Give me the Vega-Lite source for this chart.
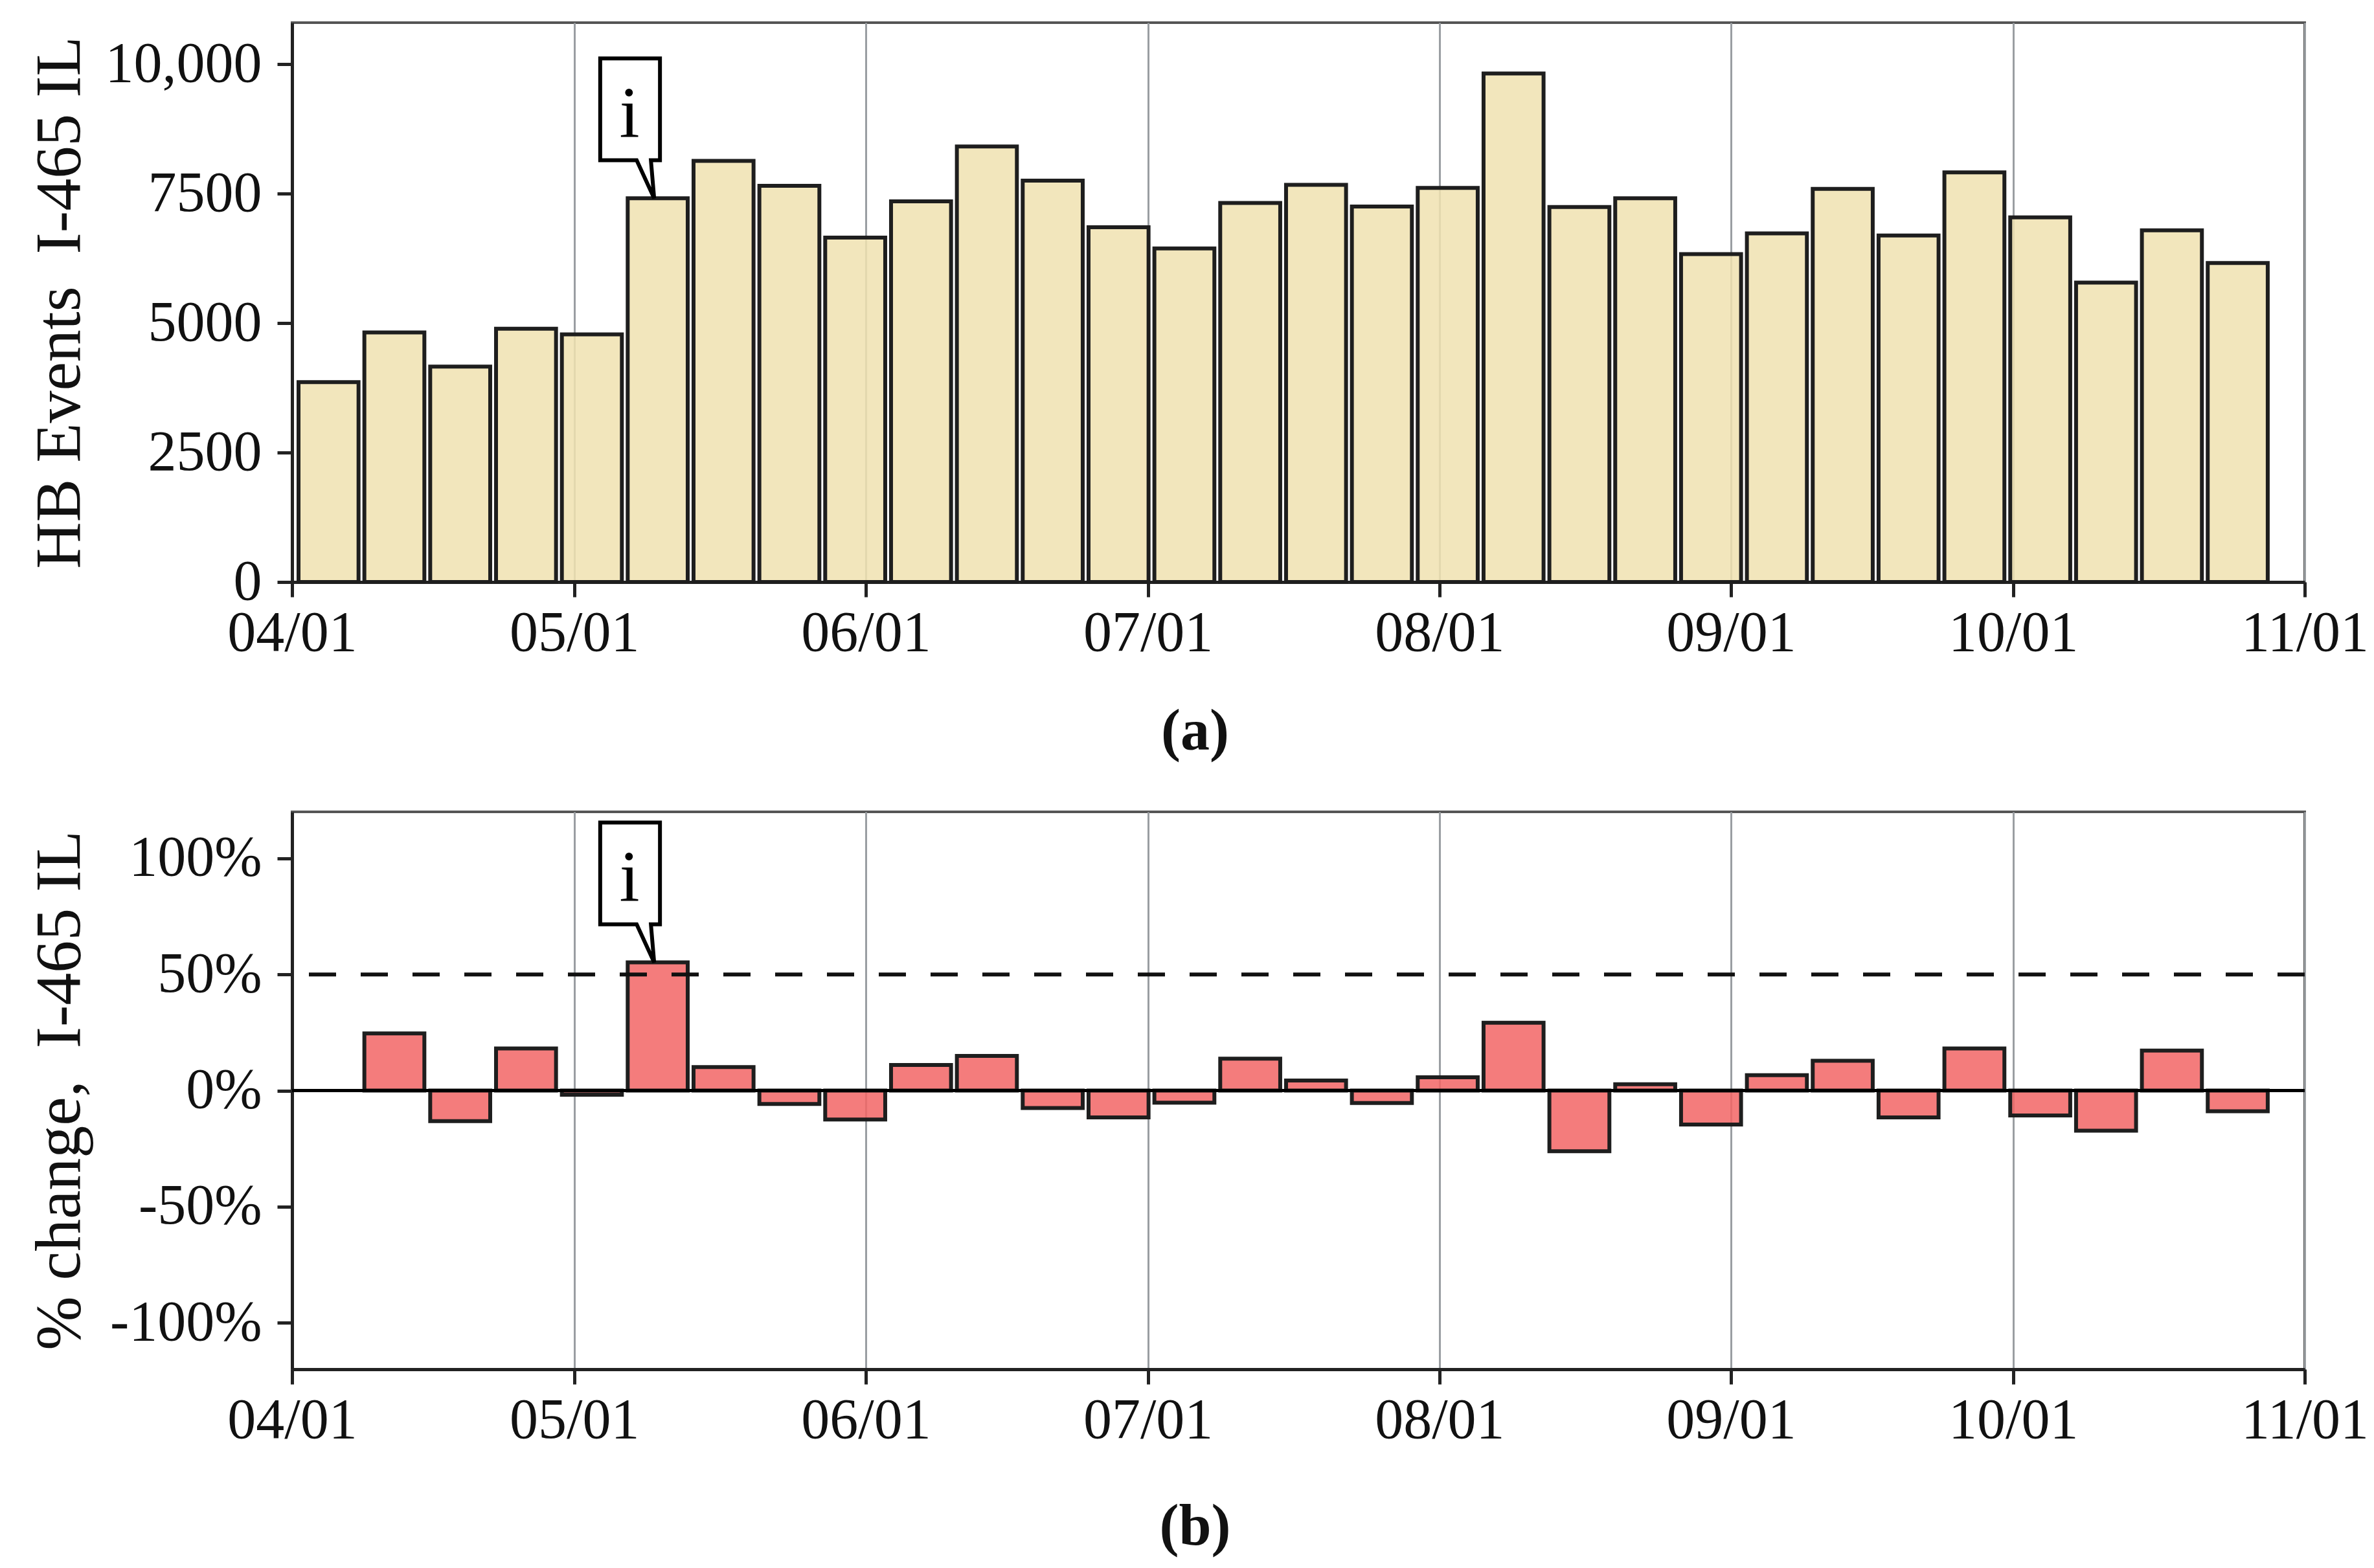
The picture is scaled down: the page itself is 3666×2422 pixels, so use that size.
{
  "$schema": "https://vega.github.io/schema/vega-lite/v6.json",
  "background": "white",
  "padding": {"left": 40, "top": 33, "right": 5, "bottom": 5},
  "config": {
    "font": "Liberation Serif",
    "view": {"stroke": "#555555", "strokeWidth": 4},
    "concat": {"spacing": 75},
    "axis": {
      "labelFont": "Liberation Serif", "labelFontSize": 88, "labelColor": "#111111", "labelLimit": 0, "labelFlush": false,
      "titleFont": "Liberation Serif", "titleFontSize": 100, "titleFontWeight": "normal", "titleColor": "#111111", "titleLimit": 0,
      "tickSize": 23, "tickWidth": 5, "tickColor": "#222222",
      "domainColor": "#222222", "domainWidth": 5,
      "gridColor": "#9a9ea2", "gridWidth": 3, "gridOpacity": 1
    }
  },
  "datasets": {
    "weekly": [
      {"start": "2021-04-01T00:00:00", "end": "2021-04-08T00:00:00", "events": 3860, "pct": null},
      {"start": "2021-04-08T00:00:00", "end": "2021-04-15T00:00:00", "events": 4820, "pct": 24.6},
      {"start": "2021-04-15T00:00:00", "end": "2021-04-22T00:00:00", "events": 4160, "pct": -13.2},
      {"start": "2021-04-22T00:00:00", "end": "2021-04-29T00:00:00", "events": 4890, "pct": 18.1},
      {"start": "2021-04-29T00:00:00", "end": "2021-05-06T00:00:00", "events": 4780, "pct": -1.8},
      {"start": "2021-05-06T00:00:00", "end": "2021-05-13T00:00:00", "events": 7410, "pct": 55.2},
      {"start": "2021-05-13T00:00:00", "end": "2021-05-20T00:00:00", "events": 8130, "pct": 10.1},
      {"start": "2021-05-20T00:00:00", "end": "2021-05-27T00:00:00", "events": 7650, "pct": -5.8},
      {"start": "2021-05-27T00:00:00", "end": "2021-06-03T00:00:00", "events": 6650, "pct": -12.5},
      {"start": "2021-06-03T00:00:00", "end": "2021-06-10T00:00:00", "events": 7350, "pct": 11.0},
      {"start": "2021-06-10T00:00:00", "end": "2021-06-17T00:00:00", "events": 8410, "pct": 14.9},
      {"start": "2021-06-17T00:00:00", "end": "2021-06-24T00:00:00", "events": 7750, "pct": -7.5},
      {"start": "2021-06-24T00:00:00", "end": "2021-07-01T00:00:00", "events": 6850, "pct": -11.6},
      {"start": "2021-07-01T00:00:00", "end": "2021-07-08T00:00:00", "events": 6440, "pct": -5.2},
      {"start": "2021-07-08T00:00:00", "end": "2021-07-15T00:00:00", "events": 7320, "pct": 13.7},
      {"start": "2021-07-15T00:00:00", "end": "2021-07-22T00:00:00", "events": 7670, "pct": 4.3},
      {"start": "2021-07-22T00:00:00", "end": "2021-07-29T00:00:00", "events": 7250, "pct": -5.4},
      {"start": "2021-07-29T00:00:00", "end": "2021-08-05T00:00:00", "events": 7610, "pct": 5.7},
      {"start": "2021-08-05T00:00:00", "end": "2021-08-12T00:00:00", "events": 9820, "pct": 29.2},
      {"start": "2021-08-12T00:00:00", "end": "2021-08-19T00:00:00", "events": 7240, "pct": -26.1},
      {"start": "2021-08-19T00:00:00", "end": "2021-08-26T00:00:00", "events": 7410, "pct": 2.7},
      {"start": "2021-08-26T00:00:00", "end": "2021-09-02T00:00:00", "events": 6330, "pct": -14.6},
      {"start": "2021-09-02T00:00:00", "end": "2021-09-09T00:00:00", "events": 6730, "pct": 6.6},
      {"start": "2021-09-09T00:00:00", "end": "2021-09-16T00:00:00", "events": 7590, "pct": 12.8},
      {"start": "2021-09-16T00:00:00", "end": "2021-09-23T00:00:00", "events": 6690, "pct": -11.6},
      {"start": "2021-09-23T00:00:00", "end": "2021-09-30T00:00:00", "events": 7910, "pct": 18.1},
      {"start": "2021-09-30T00:00:00", "end": "2021-10-07T00:00:00", "events": 7040, "pct": -10.7},
      {"start": "2021-10-07T00:00:00", "end": "2021-10-14T00:00:00", "events": 5780, "pct": -17.3},
      {"start": "2021-10-14T00:00:00", "end": "2021-10-21T00:00:00", "events": 6790, "pct": 17.2},
      {"start": "2021-10-21T00:00:00", "end": "2021-10-28T00:00:00", "events": 6160, "pct": -8.9}
    ],
    "callouts": [
      {"date": "2021-05-09T12:00:00", "events": 7410, "pct": 55.2, "label": "i"}
    ]
  },
  "vconcat": [
    {
      "width": 3108,
      "height": 864,
      "layer": [
        {
          "data": {"name": "weekly"},
          "mark": {"type": "bar", "fill": "#f0e2b0", "fillOpacity": 0.85, "stroke": "#1e1e1e", "strokeWidth": 6, "xOffset": 10, "x2Offset": 1},
          "encoding": {
            "x": {
              "field": "start", "type": "temporal",
              "scale": {"domain": [{"year": 2021, "month": 4, "date": 1}, {"year": 2021, "month": 11, "date": 1}]},
              "axis": {"format": "%m/%d", "tickCount": {"interval": "month", "step": 1}, "grid": true, "labelPadding": 12,
                       "title": "(a)", "titleFontWeight": "bold", "titleFontSize": 90, "titleX": 1394, "titleY": 258, "titleBaseline": "alphabetic", "titleAlign": "center"}
            },
            "x2": {"field": "end"},
            "y": {
              "field": "events", "type": "quantitative",
              "scale": {"domain": [0, 10800], "nice": false},
              "axis": {"values": [0, 2500, 5000, 7500, 10000], "grid": false, "labelPadding": 24,
                       "labelExpr": "datum.value >= 10000 ? format(datum.value, ',') : format(datum.value, 'd')",
                       "title": "HB Events \u00a0I-465 IL", "titleX": -329, "titleY": 432, "titleAngle": 270, "titleBaseline": "alphabetic", "titleAlign": "center"}
            },
            "y2": {"datum": 0}
          }
        },
        {
          "data": {"name": "callouts"},
          "mark": {"type": "point", "shape": "M0,0L-0.27,-0.587L-0.833,-0.587L-0.833,-2.16L0.09,-2.16L0.09,-0.587L-0.05,-0.587Z",
                   "size": 40000, "filled": true, "fill": "white", "stroke": "black", "strokeWidth": 6, "strokeJoin": "miter", "opacity": 1},
          "encoding": {
            "x": {"field": "date", "type": "temporal"},
            "y": {"field": "events", "type": "quantitative"}
          }
        },
        {
          "data": {"name": "callouts"},
          "mark": {"type": "text", "font": "Liberation Serif", "fontSize": 112, "dx": -38, "dy": -94, "baseline": "alphabetic", "align": "center", "color": "black"},
          "encoding": {
            "x": {"field": "date", "type": "temporal"},
            "y": {"field": "events", "type": "quantitative"},
            "text": {"field": "label"}
          }
        }
      ]
    },
    {
      "width": 3108,
      "height": 861,
      "layer": [
        {
          "data": {"name": "weekly"},
          "mark": {"type": "bar", "fill": "#f26565", "fillOpacity": 0.85, "stroke": "#1e1e1e", "strokeWidth": 6, "xOffset": 10, "x2Offset": 1},
          "encoding": {
            "x": {
              "field": "start", "type": "temporal",
              "scale": {"domain": [{"year": 2021, "month": 4, "date": 1}, {"year": 2021, "month": 11, "date": 1}]},
              "axis": {"format": "%m/%d", "tickCount": {"interval": "month", "step": 1}, "grid": true, "labelPadding": 12,
                       "title": "(b)", "titleFontWeight": "bold", "titleFontSize": 90, "titleX": 1394, "titleY": 270, "titleBaseline": "alphabetic", "titleAlign": "center"}
            },
            "x2": {"field": "end"},
            "y": {
              "field": "pct", "type": "quantitative",
              "scale": {"domain": [-120, 120], "nice": false},
              "axis": {"values": [-100, -50, 0, 50, 100], "grid": false, "labelPadding": 24,
                       "labelExpr": "datum.value + '%'",
                       "title": "% change, \u00a0I-465 IL", "titleX": -329, "titleY": 430, "titleAngle": 270, "titleBaseline": "alphabetic", "titleAlign": "center"}
            },
            "y2": {"datum": 0}
          }
        },
        {
          "data": {"name": "callouts"},
          "mark": {"type": "rule", "stroke": "black", "strokeWidth": 5},
          "encoding": {"y": {"datum": 0}}
        },
        {
          "data": {"name": "callouts"},
          "mark": {"type": "rule", "stroke": "#111111", "strokeWidth": 6, "strokeDash": [42, 38]},
          "encoding": {"y": {"datum": 50}}
        },
        {
          "data": {"name": "callouts"},
          "mark": {"type": "point", "shape": "M0,0L-0.27,-0.587L-0.833,-0.587L-0.833,-2.16L0.09,-2.16L0.09,-0.587L-0.05,-0.587Z",
                   "size": 40000, "filled": true, "fill": "white", "stroke": "black", "strokeWidth": 6, "strokeJoin": "miter", "opacity": 1},
          "encoding": {
            "x": {"field": "date", "type": "temporal"},
            "y": {"field": "pct", "type": "quantitative"}
          }
        },
        {
          "data": {"name": "callouts"},
          "mark": {"type": "text", "font": "Liberation Serif", "fontSize": 112, "dx": -38, "dy": -94, "baseline": "alphabetic", "align": "center", "color": "black"},
          "encoding": {
            "x": {"field": "date", "type": "temporal"},
            "y": {"field": "pct", "type": "quantitative"},
            "text": {"field": "label"}
          }
        }
      ]
    }
  ]
}
